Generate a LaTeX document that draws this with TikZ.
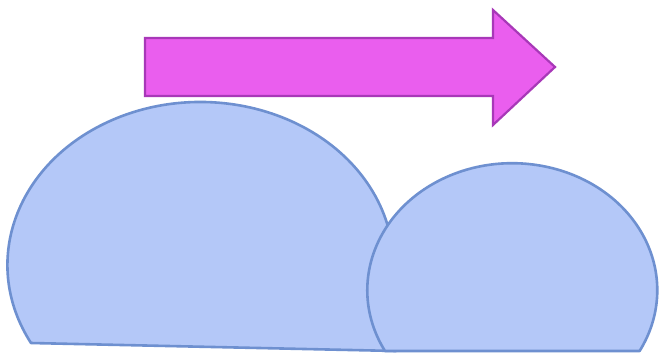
\documentclass[tikz,border=0pt]{standalone}
\definecolor{domefill}{HTML}{B4C8F8}
\definecolor{domeline}{HTML}{6E90D0}
\definecolor{arrfill}{HTML}{EA5EEE}
\definecolor{arrline}{HTML}{A838B8}
\tikzset{
  dome/.style={fill=domefill, draw=domeline, line width=2.6pt, line join=round},
  bigarrow/.style={fill=arrfill, draw=arrline, line width=2.2pt, line join=miter}
}
\begin{document}
\begin{tikzpicture}[x=1pt,y=-1pt]
\useasboundingbox (0,0) rectangle (659,357);
\fill[white] (0,0) rectangle (659,357);
% arrow
\draw[bigarrow] (145,38) -- (493,38) -- (493,10) -- (555,67) -- (493,125) -- (493,96) -- (145,96) -- cycle;
% big dome
\draw[dome] (31,343) arc[start angle=151.4, end angle=360, x radius=193, y radius=163] -- (396,351) -- cycle;
% small dome
\draw[dome] (385,351) arc[start angle=151.4, end angle=388.6, x radius=145, y radius=127] -- cycle;
\end{tikzpicture}
\end{document}
